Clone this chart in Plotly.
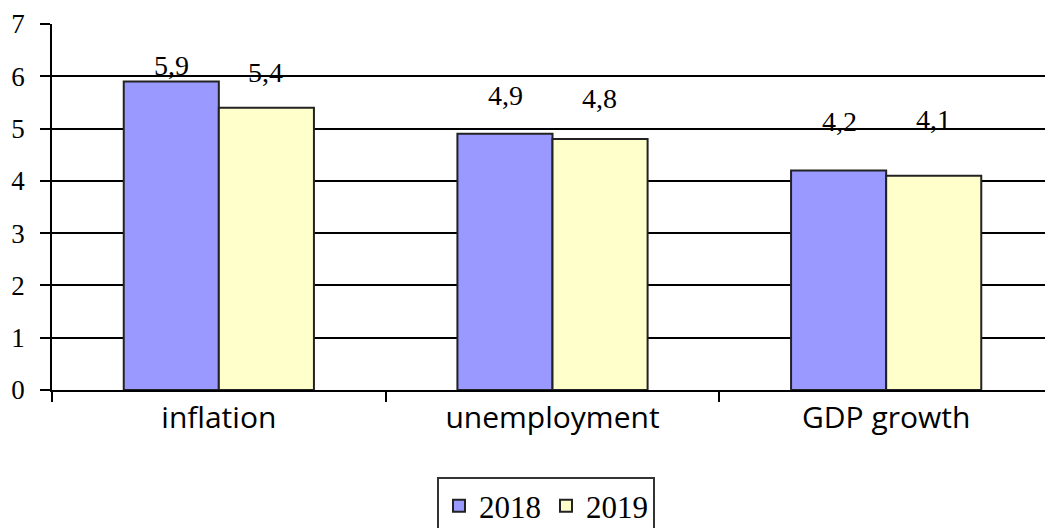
import plotly.graph_objects as go

categories = ["inflation", "unemployment", "GDP growth"]
series_names = ["2018", "2019"]
values_2018 = [5.9, 4.9, 4.2]
values_2019 = [5.4, 4.8, 4.1]
label_2018 = ["5,9", "4,9", "4,2"]
label_2019 = ["5,4", "4,8", "4,1"]
y_ticks = [0, 1, 2, 3, 4, 5, 6, 7]

colors = ["#9999FF", "#FFFFCC"]
label_shift_2018 = [16, 38, 49]
label_shift_2019 = [35, 41, 56]

fig = go.Figure()
for name, vals, col in [(series_names[0], values_2018, colors[0]),
                        (series_names[1], values_2019, colors[1])]:
    fig.add_trace(go.Bar(
        x=categories, y=vals, name=name,
        marker=dict(color=col, line=dict(color="#222222", width=2)),
    ))

annotations = []
for i, cat in enumerate(categories):
    for j, (vals, labs, shifts) in enumerate([(values_2018, label_2018, label_shift_2018),
                                               (values_2019, label_2019, label_shift_2019)]):
        annotations.append(dict(
            x=cat, y=vals[i], text=labs[i], showarrow=False,
            xref="x", yref="y", xshift=(-47 if j == 0 else 47),
            yshift=shifts[i],
            font=dict(family="Liberation Serif", size=28, color="black"),
        ))

fig.update_layout(
    width=1053, height=528,
    margin=dict(l=44, r=8, t=16, b=146, autoexpand=False),
    plot_bgcolor="white", paper_bgcolor="white",
    barmode="group", bargap=0.43, bargroupgap=0,
    annotations=annotations,
    showlegend=True,
    legend=dict(orientation="h", x=0.4935, xanchor="center", y=-0.238, yanchor="top",
                font=dict(family="Liberation Serif", size=31, color="black"),
                bordercolor="#333333", borderwidth=2,
                traceorder="normal", itemwidth=30),
    xaxis=dict(
        showline=True, linecolor="black", linewidth=1.5,
        ticks="outside", tickson="boundaries", ticklen=10, tickcolor="black", tickwidth=1.5,
        tickfont=dict(family="Open Sans", size=30, color="black"),
        showgrid=False, automargin=False,
    ),
    yaxis=dict(
        range=[0, 7], tickvals=y_ticks,
        showline=True, linecolor="black", linewidth=1.5,
        ticks="outside", ticklen=10, tickcolor="black", tickwidth=1.5,
        showgrid=True, gridcolor="black", gridwidth=1.5,
        zeroline=False, automargin=False, ticklabelstandoff=10,
        tickfont=dict(family="Liberation Serif", size=27, color="black"),
    ),
)

fig.write_html("out.html")
